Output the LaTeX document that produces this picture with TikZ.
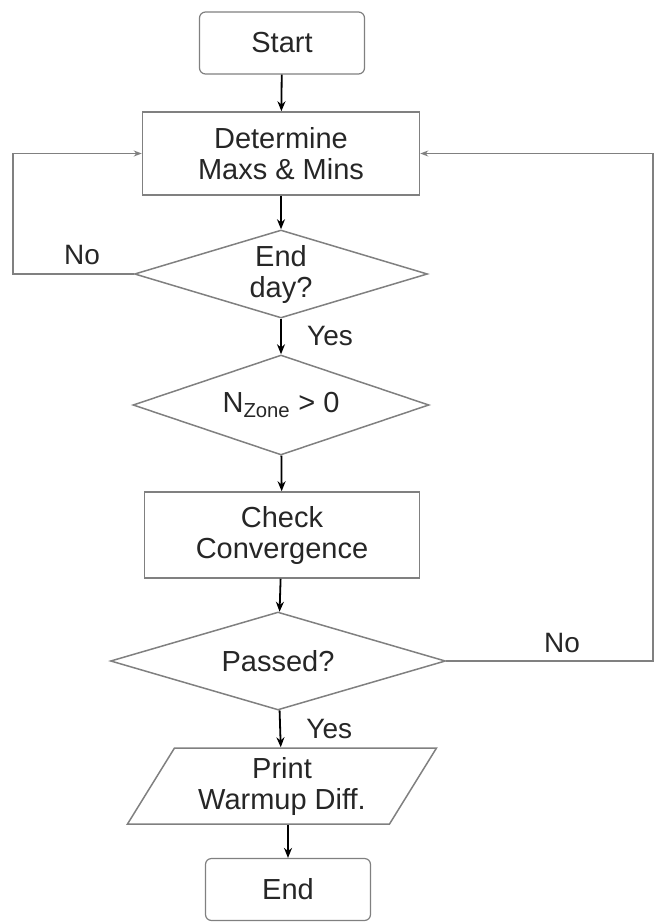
\documentclass[tikz,border=0pt]{standalone}
\usepackage{fontspec}
\setmainfont{Liberation Sans}
\usetikzlibrary{shapes.geometric,arrows.meta}

\begin{document}
\begin{tikzpicture}[x=1pt, y=-1pt,
    >={Stealth[length=10pt,width=8pt]},
    every node/.style={font=\fontsize{29}{31}\selectfont, text=black!85},
    terminal/.style={rectangle, draw=gray, line width=1.2pt, rounded corners=6pt, minimum width=165pt, minimum height=62pt},
    process/.style={rectangle, draw=gray, line width=1.5pt, align=center, minimum width=277pt, minimum height=83pt},
    decision/.style={diamond, draw=gray, line width=1.5pt, align=center, aspect=3, inner sep=0pt},
    io/.style={trapezium, trapezium left angle=51, trapezium right angle=129, trapezium stretches body=true, draw=gray, line width=1.5pt, align=center, inner sep=0pt, minimum height=76pt},
    flow/.style={->, line width=1.8pt, black},
    back/.style={->, line width=1.5pt, gray, >={Stealth[length=8pt,width=6pt]}},
    answer/.style={font=\fontsize{28}{30}\selectfont}
]
\useasboundingbox (0,0) rectangle (655,923);

% Terminals
\node[terminal] (start) at (282,43) {Start};
\node[terminal] (end) at (288,889.5) {End};

% Processes
\node[process] (determine) at (281,153.5) {Determine\\Maxs \& Mins};
\node[process, minimum width=275pt, minimum height=86pt] (check) at (282,535) {Check\\Convergence};

% Decisions
\node[decision, minimum width=293pt, minimum height=88pt] (endday) at (281,274) {End\\day?};
\node[decision, minimum width=296pt, minimum height=100pt] (nzone) at (281,405) {N\textsubscript{Zone} > 0};
\node[decision, minimum width=335pt, minimum height=98pt] (passed) at (278,661) {Passed?};

% Output
\node[io, minimum width=309pt] (print) at (282,786) {Print\\Warmup Diff.};

% Loop corners
\coordinate (lbend) at (13,274);
\coordinate (rbend) at (653,661);

% Main flow
\draw[flow] (start) -- (determine);
\draw[flow] (determine) -- (endday);
\draw[flow] (endday) -- node[answer, right=22pt] {Yes} (nzone);
\draw[flow] (nzone) -- (check);
\draw[flow] (check) -- (passed);
\draw[flow] (passed) -- node[answer, right=22pt] {Yes} (print);
\draw[flow] (print.south -| end.north) -- (end.north);

% Loops back
\draw[back] (endday.west) -- (lbend) |- (determine.west);
\draw[back] (passed.east) -- (rbend) |- (determine.east);
\node[answer] (no-left) at (82,255) {No};
\node[answer] (no-right) at (562,643) {No};

\end{tikzpicture}
\end{document}
